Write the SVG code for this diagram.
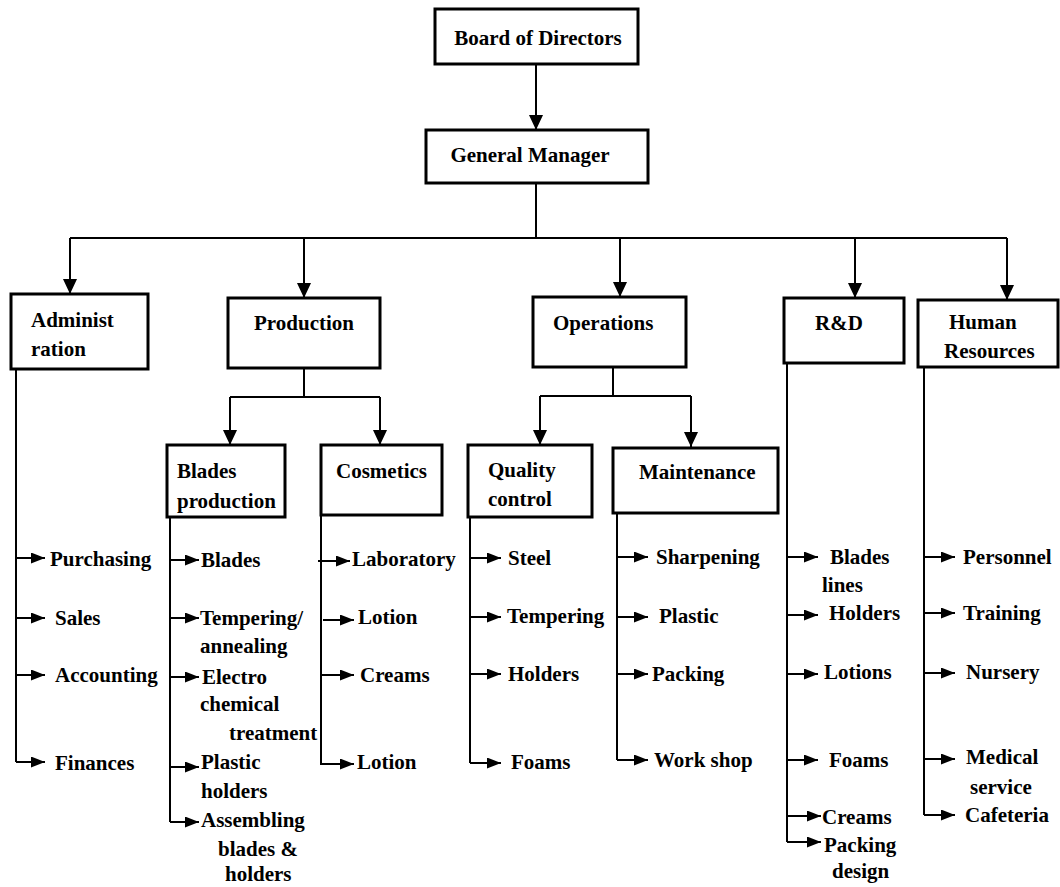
<svg xmlns="http://www.w3.org/2000/svg" width="1060" height="887" viewBox="0 0 1060 887">
  <style>
    .box { fill: #fff; stroke: #000; stroke-width: 3; }
    .t { font-family: "Liberation Serif", "Times New Roman", serif; font-weight: bold; font-size: 21px; fill: #000; }
    .w { fill: none; stroke: #000; stroke-width: 2; }
    .dn { marker-end: url(#big); }
    .rt { marker-end: url(#small); }
  </style>
  <defs>
    <marker id="big" markerUnits="userSpaceOnUse" markerWidth="15" markerHeight="14" refX="15" refY="7" orient="auto">
      <path d="M0,0 L15,7 L0,14 z" fill="#000"/>
    </marker>
    <marker id="small" markerUnits="userSpaceOnUse" markerWidth="14" markerHeight="11" refX="14" refY="5.5" orient="auto">
      <path d="M0,0 L14,5.5 L0,11 z" fill="#000"/>
    </marker>
  </defs>

  <rect width="1060" height="887" fill="#fff"/>

  <g id="connectors">
    <!-- top levels -->
    <line class="w dn" x1="536" y1="65" x2="536" y2="130"/>
    <line class="w" x1="536" y1="183" x2="536" y2="238"/>
    <line class="w" x1="70" y1="238" x2="1007" y2="238"/>
    <line class="w dn" x1="70" y1="238" x2="70" y2="294"/>
    <line class="w dn" x1="304" y1="238" x2="304" y2="298"/>
    <line class="w dn" x1="620" y1="238" x2="620" y2="297"/>
    <line class="w dn" x1="855" y1="238" x2="855" y2="298"/>
    <line class="w dn" x1="1007" y1="238" x2="1007" y2="300"/>

    <!-- production split -->
    <line class="w" x1="304" y1="368" x2="304" y2="397"/>
    <path class="w" d="M380,397 L230,397"/>
    <line class="w dn" x1="230" y1="397" x2="230" y2="445"/>
    <line class="w dn" x1="380" y1="397" x2="380" y2="445"/>

    <!-- operations split -->
    <line class="w" x1="613" y1="367" x2="613" y2="396"/>
    <path class="w" d="M691,396 L540,396"/>
    <line class="w dn" x1="540" y1="396" x2="540" y2="445"/>
    <line class="w dn" x1="691" y1="396" x2="691" y2="447"/>

    <!-- Administration list -->
    <path class="w" d="M16,369 L16,762"/>
    <line class="w rt" x1="16" y1="558" x2="45" y2="558"/>
    <line class="w rt" x1="16" y1="618" x2="45" y2="618"/>
    <line class="w rt" x1="16" y1="675" x2="45" y2="675"/>
    <line class="w rt" x1="16" y1="762" x2="45" y2="762"/>

    <!-- Blades production list -->
    <path class="w" d="M170,517 L170,822"/>
    <line class="w rt" x1="170" y1="560" x2="199" y2="560"/>
    <line class="w rt" x1="170" y1="618" x2="199" y2="618"/>
    <line class="w rt" x1="170" y1="677" x2="199" y2="677"/>
    <line class="w rt" x1="170" y1="767" x2="199" y2="767"/>
    <line class="w rt" x1="170" y1="822" x2="199" y2="822"/>

    <!-- Cosmetics list -->
    <path class="w" d="M321,515 L321,765"/>
    <line class="w rt" x1="318" y1="561" x2="350" y2="561"/>
    <line class="w rt" x1="323" y1="620" x2="354" y2="620"/>
    <line class="w rt" x1="321" y1="675" x2="354" y2="675"/>
    <line class="w rt" x1="321" y1="764" x2="354" y2="764"/>

    <!-- Quality control list -->
    <path class="w" d="M470,517 L470,763"/>
    <line class="w rt" x1="470" y1="558" x2="501" y2="558"/>
    <line class="w rt" x1="470" y1="617" x2="501" y2="617"/>
    <line class="w rt" x1="470" y1="674" x2="501" y2="674"/>
    <line class="w rt" x1="470" y1="763" x2="501" y2="763"/>

    <!-- Maintenance list -->
    <path class="w" d="M617,513 L617,760"/>
    <line class="w rt" x1="617" y1="557" x2="648" y2="557"/>
    <line class="w rt" x1="617" y1="617" x2="648" y2="617"/>
    <line class="w rt" x1="617" y1="674" x2="648" y2="674"/>
    <line class="w rt" x1="617" y1="760" x2="648" y2="760"/>

    <!-- R&D list -->
    <path class="w" d="M787,363 L787,842"/>
    <line class="w rt" x1="787" y1="557" x2="818" y2="557"/>
    <line class="w rt" x1="787" y1="615" x2="818" y2="615"/>
    <line class="w rt" x1="787" y1="674" x2="818" y2="674"/>
    <line class="w rt" x1="787" y1="760" x2="818" y2="760"/>
    <line class="w rt" x1="787" y1="816" x2="821" y2="816"/>
    <line class="w rt" x1="787" y1="842" x2="821" y2="842"/>

    <!-- Human Resources list -->
    <path class="w" d="M924,367 L924,815"/>
    <line class="w rt" x1="924" y1="557" x2="955" y2="557"/>
    <line class="w rt" x1="924" y1="613" x2="955" y2="613"/>
    <line class="w rt" x1="924" y1="673" x2="955" y2="673"/>
    <line class="w rt" x1="924" y1="759" x2="955" y2="759"/>
    <line class="w rt" x1="924" y1="815" x2="955" y2="815"/>
  </g>

  <g id="board">
    <rect class="box" x="435" y="9" width="203" height="55"/>
    <text class="t" x="538" y="45" text-anchor="middle">Board of Directors</text>
  </g>
  <g id="general-manager">
    <rect class="box" x="426" y="130" width="222" height="53"/>
    <text class="t" x="530" y="162" text-anchor="middle">General Manager</text>
  </g>
  <g id="administration">
    <rect class="box" x="11" y="294" width="137" height="75"/>
    <text class="t" x="31" y="327">Administ</text>
    <text class="t" x="31" y="356">ration</text>
  </g>
  <g id="production">
    <rect class="box" x="228" y="298" width="152" height="70"/>
    <text class="t" x="254" y="330">Production</text>
  </g>
  <g id="operations">
    <rect class="box" x="533" y="297" width="153" height="70"/>
    <text class="t" x="553" y="330">Operations</text>
  </g>
  <g id="rnd">
    <rect class="box" x="784" y="298" width="120" height="65"/>
    <text class="t" x="815" y="330">R&amp;D</text>
  </g>
  <g id="human-resources">
    <rect class="box" x="918" y="300" width="140" height="67"/>
    <text class="t" x="949" y="329">Human</text>
    <text class="t" x="944" y="358">Resources</text>
  </g>
  <g id="blades-production">
    <rect class="box" x="167" y="445" width="118" height="72"/>
    <text class="t" x="177" y="478">Blades</text>
    <text class="t" x="177" y="508">production</text>
  </g>
  <g id="cosmetics">
    <rect class="box" x="321" y="445" width="121" height="70"/>
    <text class="t" x="336" y="478">Cosmetics</text>
  </g>
  <g id="quality-control">
    <rect class="box" x="468" y="445" width="124" height="72"/>
    <text class="t" x="488" y="477">Quality</text>
    <text class="t" x="488" y="506">control</text>
  </g>
  <g id="maintenance">
    <rect class="box" x="613" y="448" width="165" height="65"/>
    <text class="t" x="639" y="479">Maintenance</text>
  </g>

  <g id="administration-items">
    <text class="t" x="50" y="566">Purchasing</text>
    <text class="t" x="55" y="625">Sales</text>
    <text class="t" x="55" y="682">Accounting</text>
    <text class="t" x="55" y="770">Finances</text>
  </g>
  <g id="blades-items">
    <text class="t" x="201" y="567">Blades</text>
    <text class="t" x="200" y="625">Tempering/</text>
    <text class="t" x="200" y="653">annealing</text>
    <text class="t" x="202" y="684">Electro</text>
    <text class="t" x="200" y="711">chemical</text>
    <text class="t" x="229" y="740">treatment</text>
    <text class="t" x="201" y="769">Plastic</text>
    <text class="t" x="201" y="798">holders</text>
    <text class="t" x="201" y="827">Assembling</text>
    <text class="t" x="218" y="856">blades &amp;</text>
    <text class="t" x="225" y="881">holders</text>
  </g>
  <g id="cosmetics-items">
    <text class="t" x="352" y="566">Laboratory</text>
    <text class="t" x="358" y="624">Lotion</text>
    <text class="t" x="360" y="682">Creams</text>
    <text class="t" x="357" y="769">Lotion</text>
  </g>
  <g id="quality-items">
    <text class="t" x="508" y="565">Steel</text>
    <text class="t" x="507" y="623">Tempering</text>
    <text class="t" x="508" y="681">Holders</text>
    <text class="t" x="511" y="769">Foams</text>
  </g>
  <g id="maintenance-items">
    <text class="t" x="656" y="564">Sharpening</text>
    <text class="t" x="659" y="623">Plastic</text>
    <text class="t" x="652" y="681">Packing</text>
    <text class="t" x="654" y="767">Work shop</text>
  </g>
  <g id="rnd-items">
    <text class="t" x="830" y="564">Blades</text>
    <text class="t" x="822" y="592">lines</text>
    <text class="t" x="829" y="620">Holders</text>
    <text class="t" x="824" y="679">Lotions</text>
    <text class="t" x="829" y="767">Foams</text>
    <text class="t" x="822" y="824">Creams</text>
    <text class="t" x="824" y="852">Packing</text>
    <text class="t" x="832" y="878">design</text>
  </g>
  <g id="hr-items">
    <text class="t" x="963" y="564">Personnel</text>
    <text class="t" x="963" y="620">Training</text>
    <text class="t" x="966" y="679">Nursery</text>
    <text class="t" x="966" y="764">Medical</text>
    <text class="t" x="970" y="794">service</text>
    <text class="t" x="965" y="822">Cafeteria</text>
  </g>
</svg>
